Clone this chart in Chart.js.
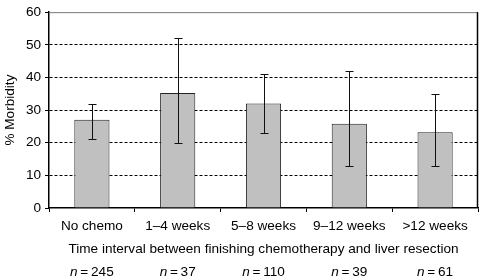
<!DOCTYPE html>
<html>
<head>
<meta charset="utf-8">
<script src="https://cdn.jsdelivr.net/npm/chart.js@4.4.0/dist/chart.umd.min.js"></script>
<style>
  html, body { margin: 0; padding: 0; background: #fff; }
  #wrap { width: 482px; height: 280px; position: relative; }
</style>
</head>
<body>
<div id="wrap"><canvas id="chart"></canvas></div>
<script>
const categories = ["No chemo", "1\u20134 weeks", "5\u20138 weeks", "9\u201312 weeks", ">12 weeks"]
const morbidity = [27, 35.2, 32, 25.8, 23.2]
const errLow = [21, 20, 23, 13, 13]
const errHigh = [32, 52, 41, 42, 35]
const counts = [245, 37, 110, 39, 61]
const yTicks = [0, 10, 20, 30, 40, 50, 60]

const FONT = "'Liberation Sans', Arial, sans-serif"
const SIZE = 13.6

// error bars + n labels + frame
const extras = {
  id: "extras",
  afterDatasetsDraw(chart) {
    const ctx = chart.ctx
    const x = chart.scales.x
    const y = chart.scales.y
    const area = chart.chartArea
    ctx.save()
    ctx.strokeStyle = "#111"
    ctx.lineWidth = 1
    errLow.forEach((lo, i) => {
      const cx = Math.round(x.getPixelForValue(i)) + 0.5
      const yl = Math.round(y.getPixelForValue(lo)) + 0.5
      const yh = Math.round(y.getPixelForValue(errHigh[i])) + 0.5
      ctx.beginPath()
      ctx.moveTo(cx, yl); ctx.lineTo(cx, yh)
      ctx.moveTo(cx - 4, yl); ctx.lineTo(cx + 4, yl)
      ctx.moveTo(cx - 4, yh); ctx.lineTo(cx + 4, yh)
      ctx.stroke()
    })
    // top and right frame
    ctx.strokeStyle = "#777"
    ctx.beginPath()
    ctx.moveTo(area.left, area.top + 0.5); ctx.lineTo(area.right, area.top + 0.5)
    ctx.stroke()
    ctx.strokeStyle = "#000"
    ctx.lineWidth = 1.5
    ctx.beginPath()
    ctx.moveTo(area.right - 0.5, area.top); ctx.lineTo(area.right - 0.5, area.bottom)
    ctx.stroke()
    ctx.restore()
  },
  afterDraw(chart) {
    const ctx = chart.ctx
    const x = chart.scales.x
    ctx.save()
    ctx.fillStyle = "#000"
    ctx.textBaseline = "middle"
    counts.forEach((n, i) => {
      const cx = x.getPixelForValue(i)
      const rest = "\u2009=\u2009" + n
      ctx.font = "italic " + SIZE + "px " + FONT
      const w1 = ctx.measureText("n").width
      ctx.font = SIZE + "px " + FONT
      const w2 = ctx.measureText(rest).width
      const start = cx - (w1 + w2) / 2
      ctx.font = "italic " + SIZE + "px " + FONT
      ctx.textAlign = "left"
      ctx.fillText("n", start, 272)
      ctx.font = SIZE + "px " + FONT
      ctx.fillText(rest, start + w1, 272)
    })
    ctx.restore()
  }
}

new Chart(document.getElementById("chart"), {
  type: "bar",
  data: {
    labels: categories,
    datasets: [{
      data: morbidity,
      backgroundColor: "#c0c0c0",
      borderColor: "#222",
      borderWidth: 1,
      barPercentage: 0.41,
      categoryPercentage: 1
    }]
  },
  plugins: [extras],
  options: {
    responsive: true,
    maintainAspectRatio: false,
    animation: false,
    layout: { padding: { top: 9, right: 4, left: 2, bottom: 0 } },
    plugins: { legend: { display: false }, tooltip: { enabled: false } },
    scales: {
      x: {
        afterFit: (s) => { s.height = 72 },
        grid: {
          offset: true,
          drawOnChartArea: false,
          drawTicks: true,
          tickLength: 4,
          color: "#000"
        },
        border: { color: "#000", width: 1.5 },
        ticks: { color: "#000", padding: 6, font: { family: FONT, size: SIZE } },
        title: {
          display: true,
          text: "Time interval between finishing chemotherapy and liver resection",
          color: "#000",
          font: { family: FONT, size: SIZE },
          padding: { top: 0, bottom: 23 }
        }
      },
      y: {
        min: 0,
        max: 60,
        afterFit: (s) => { s.width = 47 },
        afterBuildTicks: (s) => { s.ticks = yTicks.map(v => ({ value: v })) },
        grid: {
          color: (c) => (c.tick && (c.tick.value === 0 || c.tick.value === 60)) ? "rgba(0,0,0,0)" : "#000",
          tickColor: "#000",
          tickLength: 4,
          lineWidth: 1
        },
        border: { color: "#000", width: 1.5, dash: [3, 2] },
        ticks: { color: "#000", padding: 4, font: { family: FONT, size: SIZE } },
        title: {
          display: true,
          text: "% Morbidity",
          color: "#000",
          font: { family: FONT, size: SIZE },
          padding: { top: 0, bottom: 2 }
        }
      }
    }
  }
})
</script>
</body>
</html>
